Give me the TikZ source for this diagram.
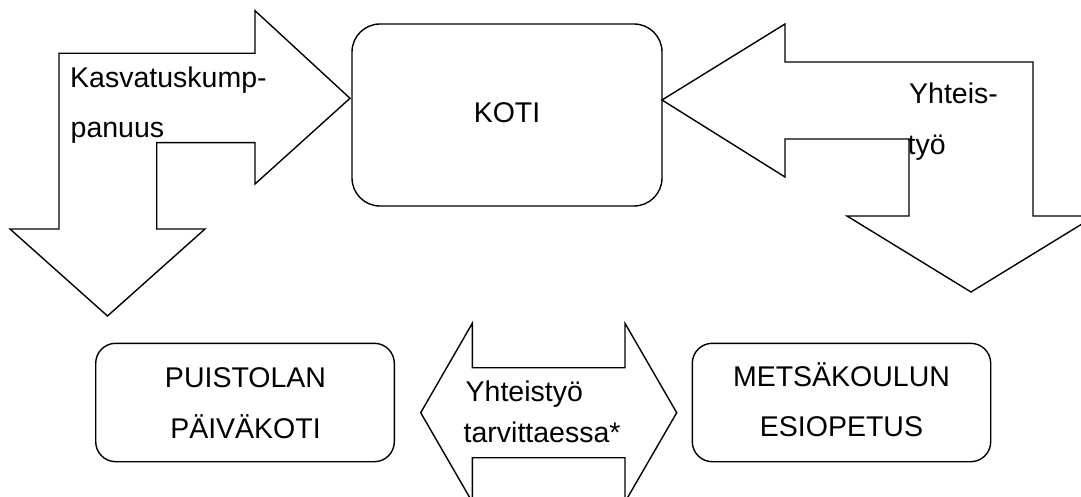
\documentclass[tikz,border=0pt]{standalone}
\usepackage{fontspec}
\setmainfont{Liberation Sans}
\begin{document}
\begin{tikzpicture}[x=1pt,y=-1pt,
  blockarrow/.style={draw=black, line width=1.4pt, line join=miter},
  roundbox/.style={draw=black, line width=1.4pt, rounded corners=#1, rectangle, inner sep=0pt},
  txt/.style={inner sep=0pt, font=\fontsize{28.5}{34}\selectfont}]
\useasboundingbox (0,0) rectangle (1081,497);
\clip (0,0) rectangle (1081,497);

% boxes
\node[roundbox=28, minimum width=310, minimum height=182] (koti) at (507,115) {};
\node[roundbox=20, minimum width=298.6, minimum height=118.4] (puisto) at (245,402.5) {};
\node[roundbox=20, minimum width=298.4, minimum height=118.4] (metsa) at (841.5,402.5) {};

% left bent arrow
\draw[blockarrow] (59,229) -- (59,53.3) -- (255,53.3) -- (255,10.7) -- (350,98.3)
  -- (255,184) -- (255,142.7) -- (156.7,142.7) -- (156.7,229) -- (205,229)
  -- (107.5,316) -- (10,229) -- cycle;

% right bent arrow
\draw[blockarrow] (662,100) -- (785,24) -- (785,62) -- (1033,62) -- (1033,216)
  -- (1095,216) -- (971,292) -- (847,216) -- (909,216) -- (909,139)
  -- (785,139) -- (785,177) -- cycle;

% double arrow
\draw[blockarrow] (420.7,412.7) -- (472.3,323.3) -- (472.3,367.7) -- (625,367.7)
  -- (625,323.3) -- (676.7,412.7) -- (625,502) -- (625,457.7) -- (472.3,457.7)
  -- (472.3,502) -- cycle;

% texts
\node[txt, anchor=base west] (t1a) at (70,88) {Kasvatuskump-};
\node[txt, anchor=base west] (t1b) at (70.5,138) {panuus};
\node[txt, anchor=base] (kotitxt) at (507,122.3) {KOTI};
\node[txt, anchor=base west] (t2a) at (909,104) {Yhteis-};
\node[txt, anchor=base west] (t2b) at (907.5,155) {työ};
\node[txt, anchor=base] (p1) at (245.5,387.3) {PUISTOLAN};
\node[txt, anchor=base] (p2) at (245.5,438) {PÄIVÄKOTI};
\node[txt, anchor=base west] (t3a) at (465.5,401.7) {Yhteistyö};
\node[txt, anchor=base west] (t3b) at (463.5,442.3) {tarvittaessa*};
\node[txt, anchor=base] (m1) at (841.5,386.5) {METSÄKOULUN};
\node[txt, anchor=base] (m2) at (841.5,436.5) {ESIOPETUS};
\end{tikzpicture}
\end{document}
